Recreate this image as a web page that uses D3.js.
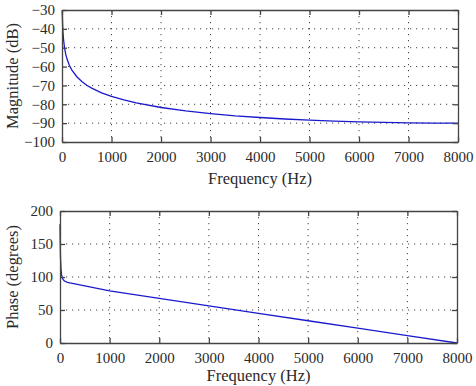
<!DOCTYPE html>
<html><head><meta charset="utf-8">
<script src="https://cdn.jsdelivr.net/npm/d3@7"></script>
<style>body{margin:0;background:#fff}svg{display:block}text{font-family:"Liberation Serif","DejaVu Serif",serif;fill:#2a2a2a}</style>
</head><body>
<script>
// Data
const magFreq = [5,10,20,30,50,75,100,150,200,300,400,500,600,800,1000,1250,1500,2000,2500,3000,3500,4000,4500,5000,5500,6000,6500,7000,7500,8000];
const magDb   = [-30,-35.9,-41.9,-45.4,-49.9,-53.4,-55.9,-59.4,-61.9,-65.4,-67.9,-69.9,-71.4,-73.9,-75.8,-77.7,-79.3,-81.7,-83.5,-84.9,-86.1,-87.0,-87.8,-88.4,-88.9,-89.3,-89.6,-89.9,-90.0,-90.0];
const phFreq  = [0,5,10,20,30,50,75,100,150,200,300,500,1000,2000,3000,4000,5000,6000,7000,8000];
const phDeg   = [180,150,130,112,104,98,95,93.5,92,91,89.5,86.5,79,67.5,56.2,45,33.7,22.5,11.2,0];
const xTicks = [0,1000,2000,3000,4000,5000,6000,7000,8000];
const magTicks = [-30,-40,-50,-60,-70,-80,-90,-100];
const phTicks = [0,50,100,150,200];

const W=476,H=386;
const svg=d3.select("body").append("svg").attr("width",W).attr("height",H);
const axisCol="#444", lineCol="#1a1acc";
const fmt = d => d<0 ? "\u2212"+Math.abs(d) : String(d);

function panel(p){
  const x=d3.scaleLinear().domain([0,8000]).range([p.l,p.r]);
  const y=d3.scaleLinear().domain(p.ydom).range([p.b,p.t]);
  const g=svg.append("g");
  // grid
  g.selectAll(".gx").data(xTicks.slice(1,-1)).join("line")
    .attr("x1",d=>x(d)).attr("x2",d=>x(d)).attr("y1",p.t).attr("y2",p.b)
    .attr("stroke",axisCol).attr("stroke-width",1).attr("stroke-dasharray","1.2,4.8");
  g.selectAll(".gy").data(p.ticks.filter(v=>v!==p.ydom[0]&&v!==p.ydom[1])).join("line")
    .attr("y1",d=>y(d)).attr("y2",d=>y(d)).attr("x1",p.l).attr("x2",p.r)
    .attr("stroke",axisCol).attr("stroke-width",1).attr("stroke-dasharray","1.2,4.8");
  // line
  const line=d3.line().x(d=>x(d[0])).y(d=>y(d[1]));
  g.append("path").datum(p.fx.map((f,i)=>[f,p.vals[i]]))
    .attr("d",line).attr("fill","none").attr("stroke",lineCol).attr("stroke-width",1.3);
  // axes
  const ab=d3.axisBottom(x).tickValues(xTicks).tickSizeInner(-5).tickSizeOuter(0).tickPadding(9).tickFormat(d=>String(d));
  const at=d3.axisTop(x).tickValues(xTicks).tickSizeInner(-5).tickSizeOuter(0).tickFormat("");
  const al=d3.axisLeft(y).tickValues(p.ticks).tickSizeInner(-5).tickSizeOuter(0).tickPadding(7).tickFormat(fmt);
  const ar=d3.axisRight(y).tickValues(p.ticks).tickSizeInner(-5).tickSizeOuter(0).tickFormat("");
  const style=s=>{s.attr("font-family",null).attr("font-size",null);
    s.selectAll("path,line").attr("stroke",axisCol).attr("stroke-width",1.3);
    s.selectAll("text").style("font-size","15px").attr("fill","#2a2a2a").style("font-family","'Liberation Serif', serif");};
  g.append("g").attr("transform",`translate(0,${p.b})`).call(ab).call(style);
  g.append("g").attr("transform",`translate(0,${p.t})`).call(at).call(style);
  g.append("g").attr("transform",`translate(${p.l},0)`).call(al).call(style);
  g.append("g").attr("transform",`translate(${p.r},0)`).call(ar).call(style);
  g.append("text").attr("x",(p.l+p.r)/2).attr("y",p.b+p.xlOff).attr("text-anchor","middle")
    .style("font-size","16.5px").text("Frequency (Hz)");
  g.append("text").attr("transform",`translate(${p.ylx},${(p.t+p.b)/2}) rotate(-90)`)
    .attr("text-anchor","middle").style("font-size","16.5px").text(p.ylab);
}
panel({l:62,r:458,t:10,b:142,ydom:[-100,-30],ticks:magTicks,fx:magFreq,vals:magDb,ylab:"Magnitude (dB)",ylx:18,xlOff:42});
panel({l:60,r:457,t:211,b:343,ydom:[0,200],ticks:phTicks,fx:phFreq,vals:phDeg,ylab:"Phase (degrees)",ylx:18,xlOff:38});
</script>
</body></html>
